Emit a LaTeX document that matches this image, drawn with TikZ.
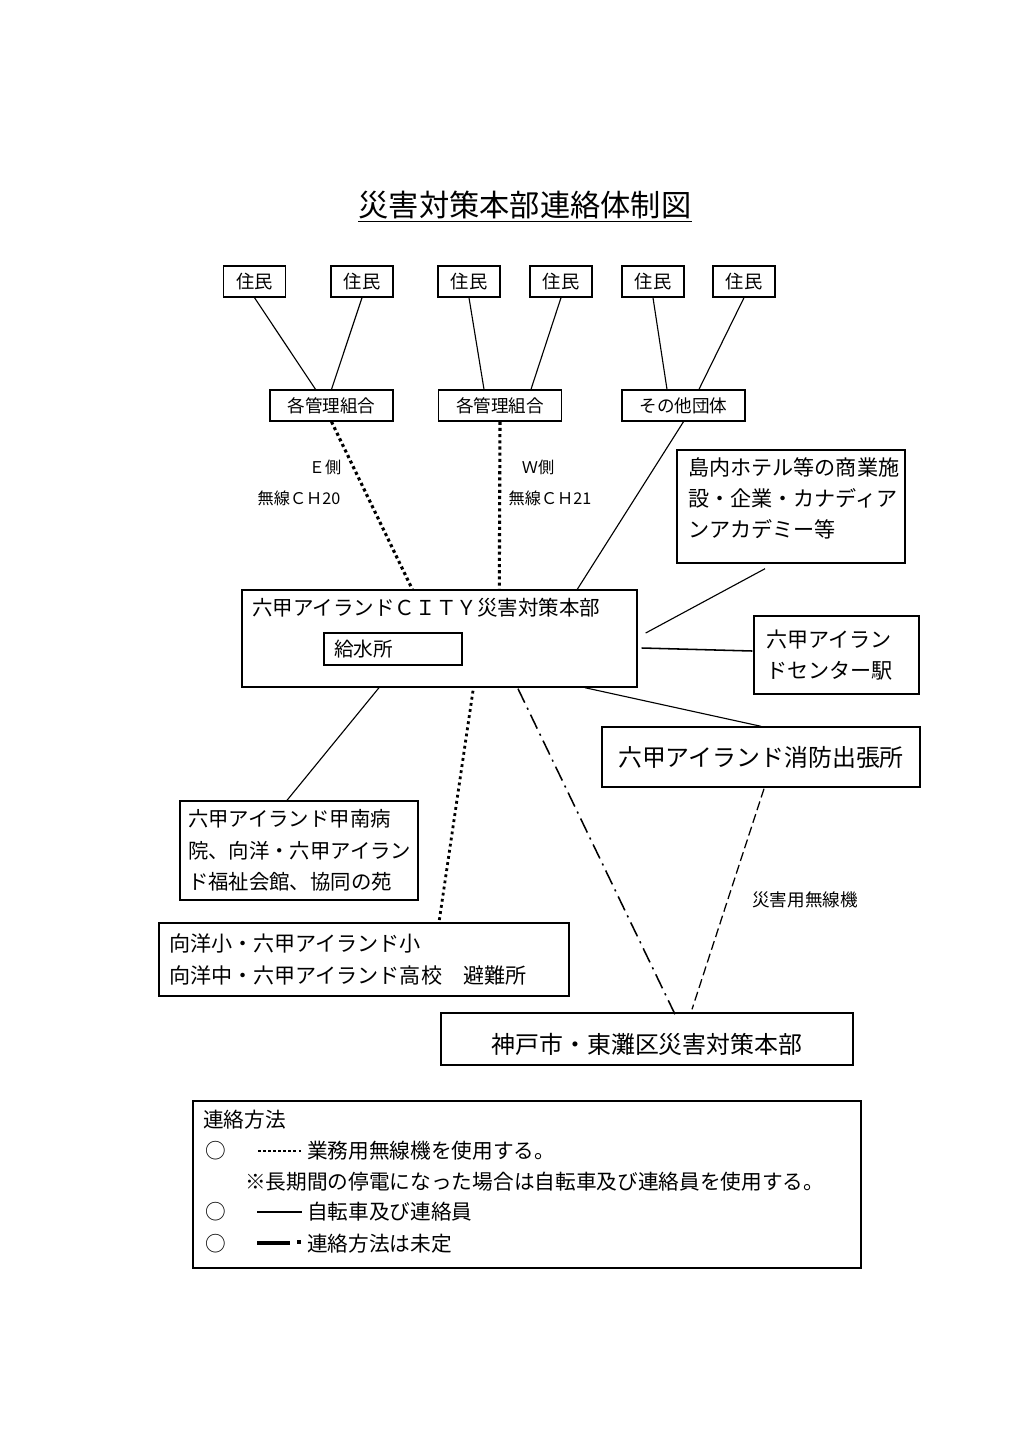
\documentclass[tikz,border=0pt]{standalone}
\usepackage{fontspec}
\setmainfont{Noto Sans CJK JP}
\usetikzlibrary{positioning,calc}

\newdimen\px \px=0.025cm

\tikzset{
    box/.style={rectangle, draw, line width=1pt, inner sep=0pt},
    resbox/.style={box, minimum width=62\px, minimum height=31\px, font=\fontsize{13pt}{15pt}\selectfont},
    grpbox/.style={box, minimum width=123\px, minimum height=31\px, font=\fontsize{12.5pt}{15pt}\selectfont},
    textbox/.style={box, align=left, inner xsep=10\px, font=\fontsize{15pt}{22.3pt}\selectfont},
    bigbox/.style={box, font=\fontsize{17pt}{20pt}\selectfont},
    note/.style={inner sep=0pt, font=\fontsize{11.5pt}{14pt}\selectfont},
    legendtext/.style={anchor=west, inner sep=0pt, font=\fontsize{14.7pt}{18pt}\selectfont},
    link/.style={line width=0.8pt},
    radio/.style={line width=2.2pt, dash pattern=on 2.2pt off 2.2pt},
    radiothin/.style={line width=2pt, dash pattern=on 2pt off 2.4pt},
    undecided/.style={line width=1.1pt, dash pattern=on 11pt off 4pt on 1.5pt off 4pt},
    emergency/.style={line width=0.9pt, dash pattern=on 6.5pt off 3pt},
}

\begin{document}
\begin{tikzpicture}[x=0.025cm, y=-0.025cm]
    \fill[white] (0,0) rectangle (1024,1449);
    \useasboundingbox (0,0) rectangle (1024,1449);

    % Title
    \node[inner xsep=0pt, inner ysep=2\px, font=\fontsize{21.5pt}{24pt}\selectfont] (title) at (525,205) {災害対策本部連絡体制図};
    \draw[line width=0.8pt] (title.south west) -- (title.south east);

    % Residents
    \node[resbox] (res1) at (254.5,281.5) {住民};
    \node[resbox] (res2) at (362,281.5) {住民};
    \node[resbox] (res3) at (469,281.5) {住民};
    \node[resbox] (res4) at (561,281.5) {住民};
    \node[resbox] (res5) at (653,281.5) {住民};
    \node[resbox] (res6) at (744,281.5) {住民};

    % Groups
    \node[grpbox] (grp1) at (331.5,405.5) {各管理組合};
    \node[grpbox] (grp2) at (500,405.5) {各管理組合};
    \node[grpbox] (grp3) at (683.5,405.5) {その他団体};

    \draw[link] (res1.south) -- ($(grp1.north)+(-16,0)$);
    \draw[link] (res2.south) -- (grp1.north);
    \draw[link] (res3.south) -- ($(grp2.north)+(-16,0)$);
    \draw[link] (res4.south) -- ($(grp2.north)+(31,0)$);
    \draw[link] (res5.south) -- ($(grp3.north)+(-16.5,0)$);
    \draw[link] (res6.south) -- ($(grp3.north)+(15.5,0)$);

    % Island headquarters
    \node[box, minimum width=395\px, minimum height=97\px] (city) at (439.5,638.5) {};
    \node[anchor=west, inner sep=0pt, font=\fontsize{14.6pt}{18pt}\selectfont] (citytitle) at (252,608) {六甲アイランドＣＩＴＹ災害対策本部};
    \node[textbox, text width=118\px, minimum height=32\px, font=\fontsize{14pt}{16pt}\selectfont] (water) at (393,649) {給水所};

    % Radio channels
    \draw[radio] (grp1.south) -- ($(city.north west)+(171,0)$);
    \draw[radio] (grp2.south) -- ($(city.north west)+(258,0)$);
    \draw[link] (grp3.south) -- ($(city.north west)+(336,0)$);
    \node[note] (eside) at (325,467) {Ｅ側};
    \node[note] (ech) at (299,498) {無線ＣＨ20};
    \node[note] (wside) at (538,467) {Ｗ側};
    \node[note] (wch) at (550,498) {無線ＣＨ21};

    % Surrounding facilities
    \node[box, minimum width=228\px, minimum height=113\px] (hotel) at (791,506.5) {};
    \node[anchor=base west, align=left, inner sep=0pt, text width=214\px, font=\fontsize{15pt}{22.3pt}\selectfont] (hoteltext) at (688,475) {島内ホテル等の商業施\\設・企業・カナディア\\ンアカデミー等};
    \node[textbox, text width=141\px, inner xsep=12\px, minimum height=78\px] (station) at (836.5,655) {六甲アイラン\\ドセンター駅};
    \node[bigbox, minimum width=318\px, minimum height=60\px] (fire) at (761,757) {六甲アイランド消防出張所};
    \node[textbox, text width=222\px, inner xsep=8\px, minimum height=99\px, font=\fontsize{14.5pt}{22.3pt}\selectfont] (hospital) at (299,850.5) {六甲アイランド甲南病\\院、向洋・六甲アイラン\\ド福祉会館、協同の苑};
    \node[textbox, text width=390\px, minimum height=73\px] (shelter) at (364,959.5) {向洋小・六甲アイランド小\\向洋中・六甲アイランド高校　避難所};
    \node[bigbox, minimum width=412\px, minimum height=52\px, text height=30\px] (kobe) at (647,1039) {神戸市・東灘区災害対策本部};

    % Connections
    \draw[link] ($(hotel.south)+(-26,5)$) -- ($(city.east)+(8,-5.5)$);
    \draw[link, line width=1.1pt] ($(city.east)+(4,9.5)$) -- ($(station.west)+(-1,-4)$);
    \draw[link] ($(city.south)+(145.5,0)$) -- (fire.north);
    \draw[link] ($(city.south)+(-60.5,0)$) -- ($(hospital.north)+(-12,0)$);
    \draw[radiothin] ($(city.south)+(33.5,3)$) -- ($(shelter.north)+(75,0)$);
    \draw[undecided] ($(city.south)+(78.5,1)$) -- ($(kobe.north)+(28,2)$);
    \draw[emergency] ($(fire.south)+(3,1)$) -- ($(kobe.north)+(45,-3)$);
    \node[note, font=\fontsize{12.5pt}{14pt}\selectfont] (radiolabel) at (805,900) {災害用無線機};

    % Legend
    \node[box, line width=1.1pt, minimum width=668\px, minimum height=167\px] (legend) at (527,1184.5) {};
    \node[legendtext] (legtitle) at (203,1120) {連絡方法};
    \node[legendtext] (mark1) at (205,1151) {○};
    \coordinate (dotA) at (258,1151);
    \coordinate (dotB) at (303,1151);
    \draw[line width=1.8pt, dash pattern=on 1.8pt off 1.8pt] (dotA) -- (dotB);
    \node[legendtext] (leg1) at (307,1151) {業務用無線機を使用する。};
    \node[legendtext] (leg1note) at (245,1182) {※長期間の停電になった場合は自転車及び連絡員を使用する。};
    \node[legendtext] (mark2) at (205,1212) {○};
    \coordinate (lineA) at (257,1212);
    \coordinate (lineB) at (302,1212);
    \draw[link] (lineA) -- (lineB);
    \node[legendtext] (leg2) at (307,1212) {自転車及び連絡員};
    \node[legendtext] (mark3) at (205,1244) {○};
    \coordinate (dashA) at (257,1243);
    \coordinate (dashB) at (290,1243);
    \coordinate (dashC) at (297,1242);
    \coordinate (dashD) at (301,1242);
    \draw[line width=2.2pt] (dashA) -- (dashB);
    \draw[line width=2.2pt] (dashC) -- (dashD);
    \node[legendtext] (leg3) at (307,1244) {連絡方法は未定};
\end{tikzpicture}
\end{document}
